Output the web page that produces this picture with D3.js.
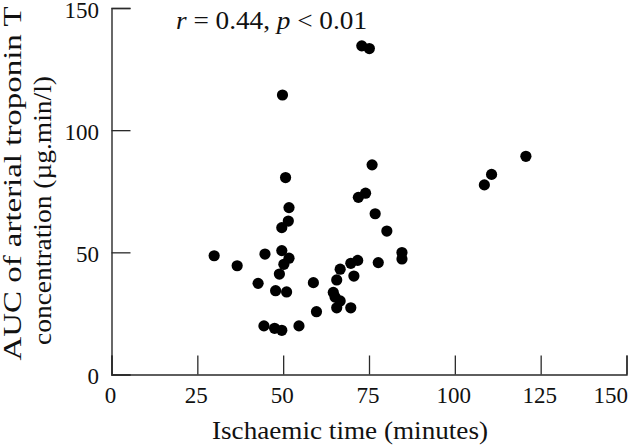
<!DOCTYPE html>
<html>
<head>
<meta charset="utf-8">
<script src="https://cdnjs.cloudflare.com/ajax/libs/d3/7.8.5/d3.min.js"></script>
<style>
  body { margin: 0; background: #fff; }
  svg text { font-family: "Liberation Serif", "Times New Roman", serif; fill: #111; }
</style>
</head>
<body>
<div id="scatter"></div>
<script>
// ischaemic time (minutes) and AUC of arterial troponin T, one entry per patient
var ischaemicTime = [29.9, 36.6, 44.7, 49.6, 51.7, 50.2, 48.9, 42.7, 47.8, 51.0,
  44.4, 47.5, 49.6, 54.6, 58.8, 59.7, 64.6, 65.1, 66.6, 65.6,
  69.7, 65.6, 66.6, 69.7, 71.7, 70.6, 77.7, 80.2, 84.6, 84.6,
  76.8, 71.9, 74.0, 75.9, 50.7, 51.7, 51.5, 49.6, 49.8, 72.9,
  75.1, 120.7, 110.7, 108.6];
var troponinAUC = [48.6, 44.5, 49.3, 50.7, 47.6, 45.1, 41.1, 37.3, 34.3, 33.8,
  19.9, 18.9, 18.1, 19.9, 37.6, 25.7, 33.6, 31.7, 30.1, 27.3,
  27.3, 38.7, 43.1, 45.5, 46.7, 40.3, 45.8, 58.7, 49.9, 47.3,
  65.8, 72.5, 74.2, 85.8, 80.6, 68.3, 62.8, 60.1, 114.4, 134.5,
  133.4, 89.3, 81.9, 77.6];

var xTicks = [0, 25, 50, 75, 100, 125, 150];
var yTicks = [0, 50, 100, 150];

var svgWidth = 640;
var svgHeight = 448;

var svg = d3.select("#scatter")
  .append("svg")
  .attr("width", svgWidth)
  .attr("height", svgHeight);

var xScale = d3.scaleLinear().domain([0, 150]).range([111.5, 626.5]);
var yScale = d3.scaleLinear().domain([0, 150]).range([374.5, 8]);

// axes, ticks point into the plot
var bottomAxis = d3.axisBottom(xScale)
  .tickValues(xTicks)
  .tickSize(-19)
  .tickPadding(11.7);

var leftAxis = d3.axisLeft(yScale)
  .tickValues(yTicks)
  .tickSize(-19)
  .tickPadding(12.5);

var xAxisGroup = svg.append("g")
  .attr("transform", `translate(0, ${yScale(0)})`)
  .call(bottomAxis);

var yAxisGroup = svg.append("g")
  .attr("transform", `translate(${xScale(0)}, 0)`)
  .call(leftAxis);

[xAxisGroup, yAxisGroup].forEach(function(g) {
  g.select(".domain").attr("stroke", "#2a2a2a").attr("stroke-width", 1.4);
  g.selectAll(".tick line").attr("stroke", "#2a2a2a").attr("stroke-width", 1.3);
  g.selectAll(".tick text")
    .style("font-size", "23px")
    .style("fill", "#111");
});

xAxisGroup.selectAll(".tick text")
  .attr("dx", "-1.5")
  .filter(d => d === 150)
  .attr("text-anchor", "end")
  .attr("dx", "1");

yAxisGroup.selectAll(".tick text").attr("dy", "0.41em");

// data points
svg.append("g")
  .selectAll("circle")
  .data(ischaemicTime)
  .enter()
  .append("circle")
  .attr("cx", d => xScale(d))
  .attr("cy", (d, i) => yScale(troponinAUC[i]))
  .attr("r", 5.6)
  .attr("fill", "#000");

// correlation note
var note = svg.append("text")
  .attr("x", 176)
  .attr("y", 29.3)
  .style("font-size", "25.5px")
  .attr("textLength", 191)
  .attr("lengthAdjust", "spacingAndGlyphs");
note.append("tspan").attr("font-style", "italic").text("r");
note.append("tspan").text(" = 0.44, ");
note.append("tspan").attr("font-style", "italic").text("p");
note.append("tspan").text(" < 0.01");

// axis titles
svg.append("text")
  .attr("x", 350)
  .attr("y", 439.3)
  .attr("text-anchor", "middle")
  .style("font-size", "25px")
  .attr("textLength", 276)
  .attr("lengthAdjust", "spacingAndGlyphs")
  .text("Ischaemic time (minutes)");

svg.append("text")
  .attr("transform", "translate(20.5, 183.5) rotate(-90)")
  .attr("text-anchor", "middle")
  .style("font-size", "25px")
  .attr("textLength", 354)
  .attr("lengthAdjust", "spacingAndGlyphs")
  .text("AUC of arterial troponin T");

svg.append("text")
  .attr("transform", "translate(51, 210.5) rotate(-90)")
  .attr("text-anchor", "middle")
  .style("font-size", "25px")
  .attr("textLength", 269)
  .attr("lengthAdjust", "spacingAndGlyphs")
  .text("concentration (\u00b5g.min/l)");
</script>
</body>
</html>
